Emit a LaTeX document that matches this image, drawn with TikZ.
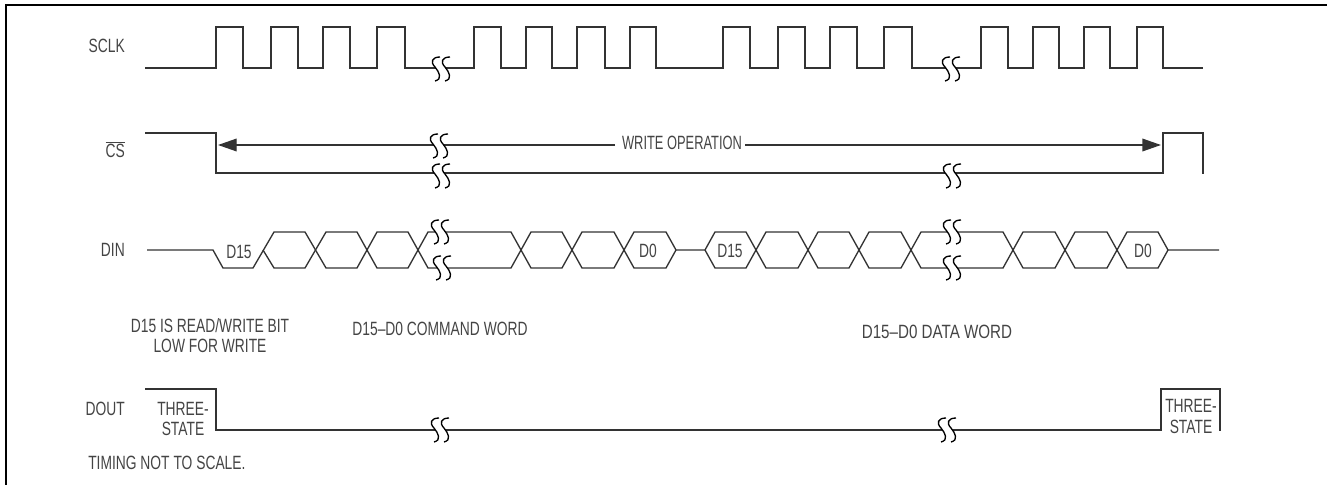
\documentclass[tikz,border=0pt]{standalone}
\usepackage{fontspec}
\setmainfont{Liberation Sans}[FakeStretch=0.72]
\usetikzlibrary{arrows.meta}
\definecolor{ctraza}{HTML}{333333}
\definecolor{ctexto}{HTML}{444444}
\tikzset{
  onda/.style={draw=ctraza,line width=1pt,miter limit=10},
  marca/.style={draw=ctraza,line width=1.7pt},
  marco/.style={draw=black,line width=2.2pt},
  flecha/.style={onda,-{Triangle[length=14pt,width=9.5pt]}},
  et/.style={font=\fontsize{14.4}{15.5}\selectfont,text=ctexto,inner sep=0pt,align=center},
  senal/.style={et,anchor=east},
  corte/.pic={
    \fill[white] (-2,-12) .. controls (-10,-12) and (-12,-7) .. (-7,-2)
      .. controls (-3,3) and (1,10) .. (-7,12) -- (3,12)
      .. controls (11,10) and (7,3) .. (3,-2)
      .. controls (-2,-7) and (0,-12) .. (8,-12) -- cycle;
    \draw[black,line width=1pt] (-2,-12) .. controls (-10,-12) and (-12,-7) .. (-7,-2)
      .. controls (-3,3) and (1,10) .. (-7,12);
    \draw[black,line width=1pt] (8,-12) .. controls (0,-12) and (-2,-7) .. (3,-2)
      .. controls (7,3) and (11,10) .. (3,12);
  },
}

\begin{document}
\begin{tikzpicture}[x=0.75pt,y=-0.75pt]
\useasboundingbox (0,0) rectangle (1327,485);

% ---------------- marco ----------------
\draw[marco] (6,485) -- (6,5) -- (1327,5);

% ---------------- SCLK ----------------
\node[senal] (sclk) at (125,46) {SCLK};
\draw[onda] (145,68) -- (216,68) -- (216,27) -- (243,27) -- (243,68) -- (271,68) -- (271,27)
  -- (298,27) -- (298,68) -- (323,68) -- (323,27) -- (350,27) -- (350,68) -- (377,68)
  -- (377,27) -- (405,27) -- (405,68) -- (474,68) -- (474,27) -- (501,27) -- (501,68)
  -- (526,68) -- (526,27) -- (552,27) -- (552,68) -- (577,68) -- (577,27) -- (605,27)
  -- (605,68) -- (630,68) -- (630,27) -- (656,27) -- (656,68) -- (723,68) -- (723,27)
  -- (750,27) -- (750,68) -- (778,68) -- (778,27) -- (805,27) -- (805,68) -- (830,68)
  -- (830,27) -- (857,27) -- (857,68) -- (884,68) -- (884,27) -- (912,27) -- (912,68)
  -- (981,68) -- (981,27) -- (1008,27) -- (1008,68) -- (1033,68) -- (1033,27) -- (1059,27)
  -- (1059,68) -- (1084,68) -- (1084,27) -- (1110,27) -- (1110,68) -- (1137,68) -- (1137,27)
  -- (1163,27) -- (1163,68) -- (1203,68);
\draw[marca] (190,68) -- (200,68);

% ---------------- CS ----------------
\node[senal] (cs) at (125,150) {$\overline{\mbox{CS}}$};
\draw[onda] (145,133) -- (216,133) -- (216,173) -- (1163,173) -- (1163,133) -- (1203,133) -- (1203,174);
\draw[marca] (190,133) -- (200,133);
\node[et,font=\fontsize{14.4}{15.5}\selectfont\addfontfeature{FakeStretch=0.67}] (wop) at (682,143) {WRITE OPERATION};
\coordinate (wizq) at (218,145);
\coordinate (wder) at (1161,145);
\coordinate (wa) at (615,145);
\coordinate (wb) at (745,145);
\draw[flecha] (wa) -- (wizq);
\draw[flecha] (wb) -- (wder);

% ---------------- DIN ----------------
\node[senal] (din) at (125,250) {DIN};
\draw[onda] (147,250) -- (213,250) -- (223,268) -- (253,268) -- (274,232) -- (305,232) -- (326,268)
  -- (357,268) -- (377,232) -- (408,232) -- (428,268) -- (438,268);
\draw[onda] (263,250) -- (274,268) -- (305,268) -- (326,232) -- (357,232) -- (377,268) -- (408,268)
  -- (428,232) -- (438,232);
\draw[onda] (445,232) -- (511,232) -- (531,268) -- (562,268) -- (582,232) -- (614,232) -- (634,268)
  -- (666,268) -- (676,250) -- (705,250) -- (715,268) -- (746,268) -- (766,232) -- (798,232)
  -- (818,268) -- (849,268) -- (869,232) -- (901,232) -- (921,268) -- (950,268);
\draw[onda] (445,268) -- (511,268) -- (531,232) -- (562,232) -- (582,268) -- (614,268) -- (634,232)
  -- (666,232) -- (676,250);
\draw[onda] (705,250) -- (715,232) -- (746,232) -- (766,268) -- (798,268) -- (818,232) -- (849,232)
  -- (869,268) -- (901,268) -- (921,232) -- (950,232);
\draw[onda] (955,232) -- (1003,232) -- (1023,268) -- (1055,268) -- (1075,232) -- (1107,232)
  -- (1127,268) -- (1158,268) -- (1168,250) -- (1219,250);
\draw[onda] (955,268) -- (1003,268) -- (1023,232) -- (1055,232) -- (1075,268) -- (1107,268)
  -- (1127,232) -- (1158,232) -- (1168,250);
\node[et] (d15a) at (239,252) {D15};
\node[et] (d0a) at (648,251) {D0};
\node[et] (d15b) at (730,251) {D15};
\node[et] (d0b) at (1143,251) {D0};

% ---------------- notas ----------------
\node[et] (nota1) at (210,335.5) {D15 IS READ/WRITE BIT\\LOW FOR WRITE};
\node[et] (nota2) at (440,329) {D15–D0 COMMAND WORD};
\node[et,font=\fontsize{14.4}{15.5}\selectfont\addfontfeature{FakeStretch=0.79}] (nota3) at (937,332) {D15–D0 DATA WORD};

% ---------------- DOUT ----------------
\node[senal] (dout) at (125,409) {DOUT};
\draw[onda] (145,389) -- (216,389) -- (216,430) -- (1161,430) -- (1161,389) -- (1220,389) -- (1220,431);
\draw[marca] (189,389) -- (197,389);
\node[et] (tri1) at (183,419) {THREE-\\STATE};
\node[et] (tri2) at (1191,416.5) {THREE-\\STATE};
\node[et,anchor=west] (escala) at (88,463) {TIMING NOT TO SCALE.};

% ---------------- cortes ----------------
\pic at (442,69) {corte};
\pic at (952,69) {corte};
\pic at (440,146) {corte};
\pic at (442,176) {corte};
\pic at (953,176) {corte};
\pic at (441,232) {corte};
\pic at (443,268) {corte};
\pic at (953,232) {corte};
\pic at (953,268) {corte};
\pic at (441,430) {corte};
\pic at (948,430) {corte};

\end{tikzpicture}
\end{document}
